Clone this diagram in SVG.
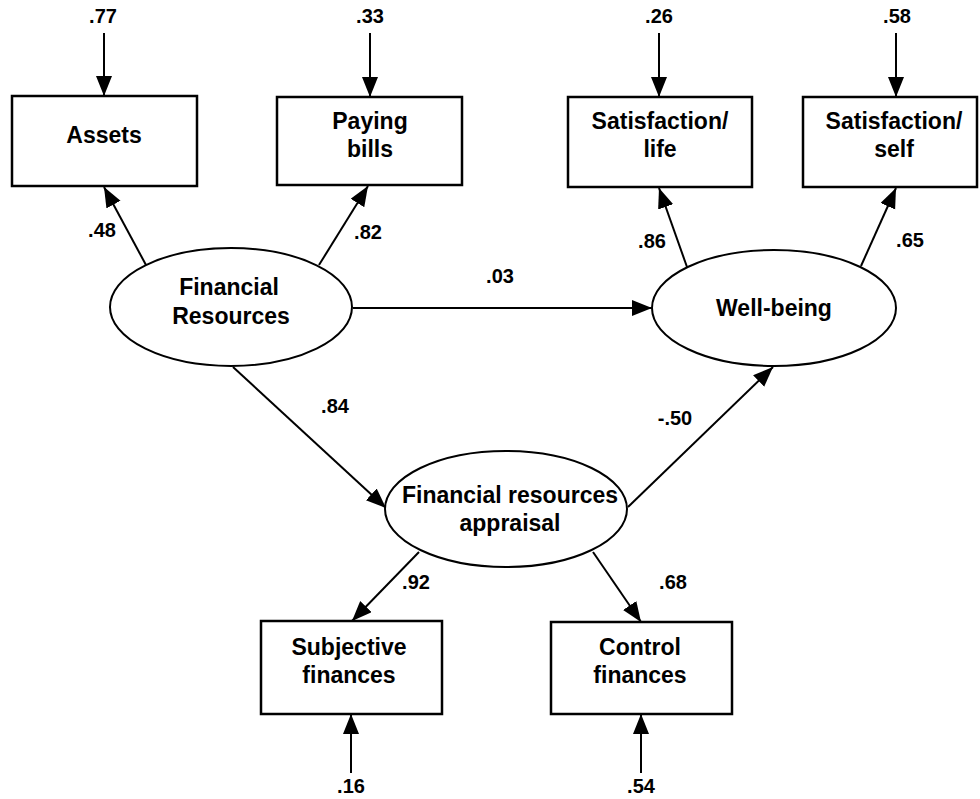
<svg xmlns="http://www.w3.org/2000/svg" width="980" height="799" viewBox="0 0 980 799">
<style>
.box{fill:#fff;stroke:#000;stroke-width:2.5}
.ell{fill:#fff;stroke:#000;stroke-width:2}
.t{font-family:"Liberation Sans",Arial,sans-serif;font-weight:bold;font-size:23px;text-anchor:middle;fill:#000}
.n{font-family:"Liberation Sans",Arial,sans-serif;font-weight:bold;font-size:20px;text-anchor:middle;fill:#000}
.c line{stroke:#000;stroke-width:2;marker-end:url(#ah)}
</style>
<defs>
<marker id="ah" markerUnits="userSpaceOnUse" markerWidth="22" markerHeight="18" refX="20" refY="8" orient="auto">
<path d="M0,0 L20,8 L0,16 z" fill="#000"/>
</marker>
</defs>
<rect width="980" height="799" fill="#fff"/>
<g class="c" id="connectors">
<line x1="104" y1="33" x2="104" y2="96"/>
<line x1="370" y1="33" x2="370" y2="97"/>
<line x1="659" y1="33" x2="659" y2="97"/>
<line x1="896" y1="33" x2="896" y2="97"/>
<line x1="351" y1="773" x2="351" y2="714"/>
<line x1="641" y1="773" x2="641" y2="714"/>
<line x1="146" y1="265" x2="104" y2="187"/>
<line x1="319" y1="265" x2="368" y2="186"/>
<line x1="687" y1="267" x2="659" y2="188"/>
<line x1="861" y1="266" x2="896" y2="188"/>
<line x1="353" y1="308" x2="652" y2="308"/>
<line x1="233" y1="367" x2="386" y2="508"/>
<line x1="628" y1="507" x2="773" y2="367"/>
<line x1="419" y1="552" x2="352" y2="621"/>
<line x1="593" y1="552" x2="641" y2="622"/>
</g>
<g id="labels">
<text class="n" x="103" y="23">.77</text>
<text class="n" x="370" y="23">.33</text>
<text class="n" x="659" y="23">.26</text>
<text class="n" x="897" y="23">.58</text>
<text class="n" x="351" y="793">.16</text>
<text class="n" x="641" y="793">.54</text>
<text class="n" x="102" y="237">.48</text>
<text class="n" x="368" y="239">.82</text>
<text class="n" x="652" y="248">.86</text>
<text class="n" x="910" y="247">.65</text>
<text class="n" x="500" y="283">.03</text>
<text class="n" x="335" y="413">.84</text>
<text class="n" x="675" y="425">-.50</text>
<text class="n" x="416" y="589">.92</text>
<text class="n" x="673" y="589">.68</text>
</g>
<g id="assets"><rect class="box" x="12" y="96" width="185" height="90"/><text class="t" x="104" y="143">Assets</text></g>
<g id="paying-bills"><rect class="box" x="277" y="97" width="185" height="88"/><text class="t" x="370" y="129">Paying</text><text class="t" x="370" y="157">bills</text></g>
<g id="sat-life"><rect class="box" x="568" y="97" width="184" height="90"/><text class="t" x="660" y="129">Satisfaction/</text><text class="t" x="660" y="157">life</text></g>
<g id="sat-self"><rect class="box" x="803" y="97" width="174" height="90"/><text class="t" x="894" y="129">Satisfaction/</text><text class="t" x="894" y="157">self</text></g>
<g id="financial-resources"><ellipse class="ell" cx="231" cy="307" rx="121" ry="59"/><text class="t" x="229" y="295">Financial</text><text class="t" x="231" y="324">Resources</text></g>
<g id="well-being"><ellipse class="ell" cx="774" cy="308" rx="122" ry="58"/><text class="t" x="774" y="316">Well-being</text></g>
<g id="appraisal"><ellipse class="ell" cx="506" cy="509" rx="121" ry="58"/><text class="t" x="510" y="503">Financial resources</text><text class="t" x="510" y="531">appraisal</text></g>
<g id="subjective"><rect class="box" x="261" y="621" width="181" height="93"/><text class="t" x="349" y="655">Subjective</text><text class="t" x="349" y="683">finances</text></g>
<g id="control"><rect class="box" x="551" y="622" width="181" height="92"/><text class="t" x="640" y="655">Control</text><text class="t" x="640" y="683">finances</text></g>
</svg>
